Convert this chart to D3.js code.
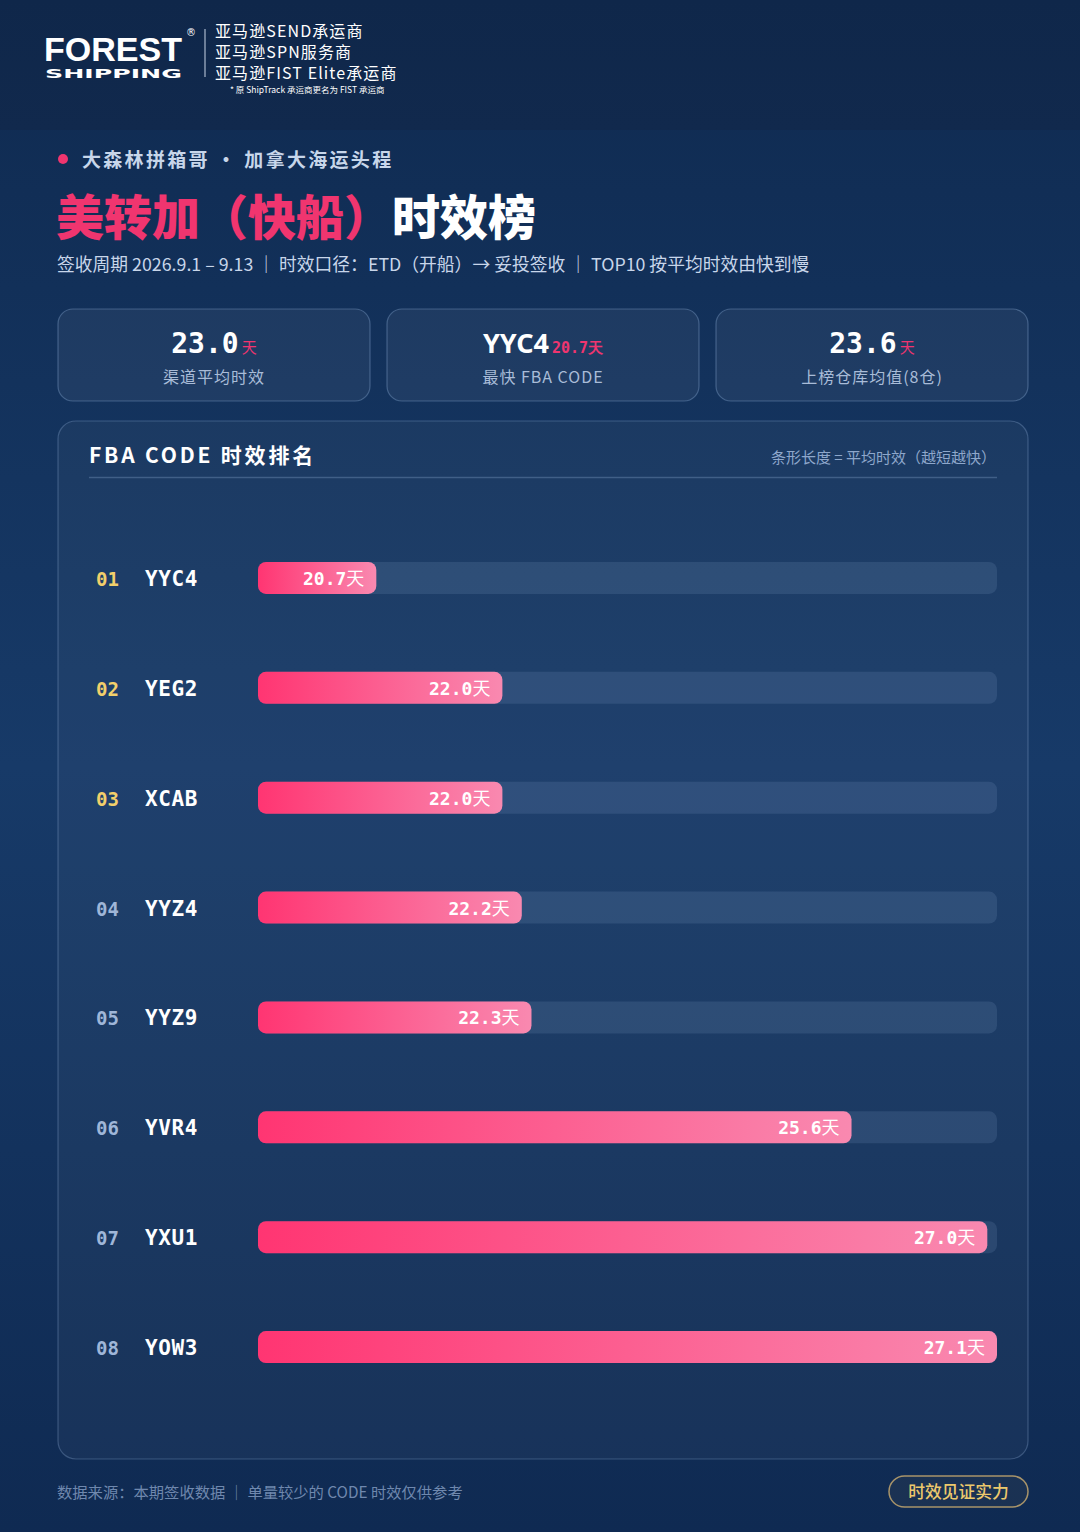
<!DOCTYPE html>
<html><head><meta charset="utf-8">
<script src="https://cdn.jsdelivr.net/npm/d3@7/dist/d3.min.js"></script>
<style>
html,body{margin:0;padding:0;background:#0f2a4f;}
svg{display:block;}
</style></head>
<body>
<div id="chart"></div>
<script>
const ranks = ["01","02","03","04","05","06","07","08"];
const codes = ["YYC4","YEG2","XCAB","YYZ4","YYZ9","YVR4","YXU1","YOW3"];
const days = [20.7,22.0,22.0,22.2,22.3,25.6,27.0,27.1];
const kpiValues = ["23.0","YYC4","23.6"];
const kpiSubValues = ["天","20.7天","天"];
const kpiLabels = ["渠道平均时效","最快 FBA CODE","上榜仓库均值(8仓)"];
const scaleDomain = [19.48, 27.1];

const W = 1080, H = 1532;
const CJK = "'Noto Sans CJK SC','Noto Sans',sans-serif";
const MONO = "'DejaVu Sans Mono','Liberation Mono',monospace";

const svg = d3.select("#chart").append("svg").attr("width", W).attr("height", H);
const defs = svg.append("defs");

const bg = defs.append("linearGradient").attr("id","bg").attr("x1",0).attr("y1",0).attr("x2",0).attr("y2",1);
bg.append("stop").attr("offset","0%").attr("stop-color","#0f2a50");
bg.append("stop").attr("offset","50%").attr("stop-color","#173a68");
bg.append("stop").attr("offset","100%").attr("stop-color","#0f2a52");
svg.append("rect").attr("width",W).attr("height",H).attr("fill","url(#bg)");
const hb = defs.append("linearGradient").attr("id","hb").attr("x1",0).attr("y1",0).attr("x2",0).attr("y2",1);
hb.append("stop").attr("offset","0%").attr("stop-color","#0f274a");
hb.append("stop").attr("offset","100%").attr("stop-color","#11294d");
svg.append("rect").attr("width",W).attr("height",130).attr("fill","url(#hb)");

const barG = defs.append("linearGradient").attr("id","barGrad").attr("x1",0).attr("y1",0).attr("x2",1).attr("y2",0);
barG.append("stop").attr("offset","0%").attr("stop-color","#ff3572");
barG.append("stop").attr("offset","100%").attr("stop-color","#f989b0");

// ---- Header logo
const logo = svg.append("g");
logo.append("text").attr("x",44).attr("y",61).attr("fill","#fff")
  .style("font-family","'Liberation Sans','DejaVu Sans',sans-serif").style("font-weight",900)
  .style("font-size","33px").attr("textLength",138).attr("lengthAdjust","spacingAndGlyphs").text("FOREST");
logo.append("text").attr("x",45).attr("y",78).attr("fill","#fff")
  .style("font-family","'DejaVu Sans',sans-serif").style("font-weight",700)
  .style("font-size","13px").attr("textLength",137).attr("lengthAdjust","spacingAndGlyphs").text("SHIPPING");
logo.append("text").attr("x",186).attr("y",36).attr("fill","#fff").style("font-size","10px")
  .style("font-family","'DejaVu Sans',sans-serif").text("®");
logo.append("line").attr("x1",205).attr("x2",205).attr("y1",29).attr("y2",77).attr("stroke","#c8d4e6").attr("stroke-width",1);
const hl = ["亚马逊SEND承运商","亚马逊SPN服务商","亚马逊FIST Elite承运商"];
logo.selectAll("text.hl").data(hl).enter().append("text").attr("class","hl")
  .attr("x",215).attr("y",(d,i)=>37+i*21).attr("fill","#fff")
  .style("font-family",CJK).style("font-size","16px").style("letter-spacing","1.1px").text(d=>d);
logo.append("text").attr("x",230).attr("y",93).attr("fill","#fff")
  .style("font-family",CJK).style("font-size","8.5px").text("* 原 ShipTrack 承运商更名为 FIST 承运商");

// ---- Title block
svg.append("circle").attr("cx",63).attr("cy",159).attr("r",5).attr("fill","#f0356f");
svg.append("text").attr("x",82).attr("y",167).attr("fill","#c7d6ea")
  .style("font-family",CJK).style("font-weight",700).style("font-size","19px").style("letter-spacing","2.3px")
  .text("大森林拼箱哥 · 加拿大海运头程");
const t = svg.append("text").attr("x",56).attr("y",235).style("font-family",CJK).style("font-weight",900).style("font-size","48px");
t.append("tspan").attr("fill","#f0356f").text("美转加（快船）");
t.append("tspan").attr("fill","#ffffff").text("时效榜");
svg.append("text").attr("x",57).attr("y",271).attr("fill","#c8d6ea")
  .style("font-family",CJK).style("font-size","17.8px")
  .text("签收周期 2026.9.1 – 9.13 ｜ 时效口径：ETD（开船）→ 妥投签收 ｜ TOP10 按平均时效由快到慢");

// ---- KPI cards
const cardX = [58,387,716], cardW = 312;
const cards = svg.selectAll("g.card").data(kpiValues).enter().append("g").attr("class","card")
  .attr("transform",(d,i)=>`translate(${cardX[i]},309)`);
cards.append("rect").attr("width",cardW).attr("height",92).attr("rx",15)
  .attr("fill","rgba(255,255,255,0.05)").attr("stroke","rgba(150,180,220,0.35)").attr("stroke-width",1.2);
cards.append("text").attr("x",cardW/2).attr("y",353-309).attr("text-anchor","middle")
  .each(function(d,i){
    const el = d3.select(this);
    el.append("tspan").attr("fill","#fff").style("font-family", i===1?"'Noto Sans','DejaVu Sans',sans-serif":MONO)
      .style("font-weight",700).style("font-size", i===1?"27px":"28px").text(d);
    el.append("tspan").attr("fill","#f0356f").attr("dx",3)
      .style("font-family", i===1?MONO:CJK).style("font-weight", i===1?700:400)
      .style("font-size", "15px").text(kpiSubValues[i]);
  });
cards.append("text").attr("x",cardW/2).attr("y",383-309).attr("text-anchor","middle")
  .attr("fill","#a9bcd8").style("font-family",CJK).style("font-size","16px").style("letter-spacing","1px")
  .text((d,i)=>kpiLabels[i]);

// ---- Main panel
svg.append("rect").attr("x",58).attr("y",421).attr("width",970).attr("height",1038).attr("rx",18)
  .attr("fill","rgba(255,255,255,0.035)").attr("stroke","rgba(150,180,220,0.3)").attr("stroke-width",1.2);
svg.append("text").attr("x",89).attr("y",463).attr("fill","#fff")
  .style("font-family",CJK).style("font-weight",700).style("font-size","21px").style("letter-spacing","2.8px")
  .text("FBA CODE 时效排名");
svg.append("text").attr("x",996).attr("y",463).attr("text-anchor","end").attr("fill","#8ea7cb")
  .style("font-family",CJK).style("font-size","15px").text("条形长度 = 平均时效（越短越快）");
svg.append("line").attr("x1",89).attr("x2",997).attr("y1",477.5).attr("y2",477.5)
  .attr("stroke","rgba(150,180,220,0.3)").attr("stroke-width",1.5);

// ---- Bars
const trackX0 = 258, trackX1 = 997;
const x = d3.scaleLinear().domain(scaleDomain).range([0, trackX1 - trackX0]);
const y = d3.scaleBand().domain(codes).range([523, 1402]).paddingInner(0).paddingOuter(0);
const barH = 32;
const rows = svg.selectAll("g.row").data(codes).enter().append("g").attr("class","row")
  .attr("transform",d=>`translate(0,${y(d)+y.bandwidth()/2})`);
rows.append("text").attr("x",96).attr("y",8).attr("fill",(d,i)=> i<3?"#f2cf6b":"#9fb6d8")
  .style("font-family",MONO).style("font-weight",700).style("font-size","19px").text((d,i)=>ranks[i]);
rows.append("text").attr("x",145).attr("y",8).attr("fill","#fff")
  .style("font-family",MONO).style("font-weight",700).style("font-size","21px")
  .style("letter-spacing","0.6px").text(d=>d);
rows.append("rect").attr("x",trackX0).attr("y",-barH/2).attr("width",trackX1-trackX0).attr("height",barH).attr("rx",8)
  .attr("fill","rgba(160,190,235,0.13)");
rows.append("rect").attr("x",trackX0).attr("y",-barH/2).attr("width",(d,i)=>x(days[i])).attr("height",barH).attr("rx",8)
  .attr("fill","url(#barGrad)");
const lbl = rows.append("text").attr("x",(d,i)=>trackX0 + x(days[i]) - 12).attr("y",7).attr("text-anchor","end").attr("fill","#fff");
lbl.append("tspan").style("font-family",MONO).style("font-weight",700).style("font-size","18px").text((d,i)=>days[i].toFixed(1));
lbl.append("tspan").style("font-family",CJK).style("font-size","18px").text("天");

// ---- Footer
svg.append("text").attr("x",57).attr("y",1498).attr("fill","#6f88ae")
  .style("font-family",CJK).style("font-size","15.3px").text("数据来源：本期签收数据 ｜ 单量较少的 CODE 时效仅供参考");
svg.append("rect").attr("x",889).attr("y",1476).attr("width",139).attr("height",31).attr("rx",15.5)
  .attr("fill","rgba(200,170,90,0.06)").attr("stroke","#a8946a").attr("stroke-width",1.5);
svg.append("text").attr("x",958.5).attr("y",1498).attr("text-anchor","middle").attr("fill","#ecc86c")
  .style("font-family",CJK).style("font-size","16.8px").style("font-weight",500).text("时效见证实力");
</script>
</body></html>
